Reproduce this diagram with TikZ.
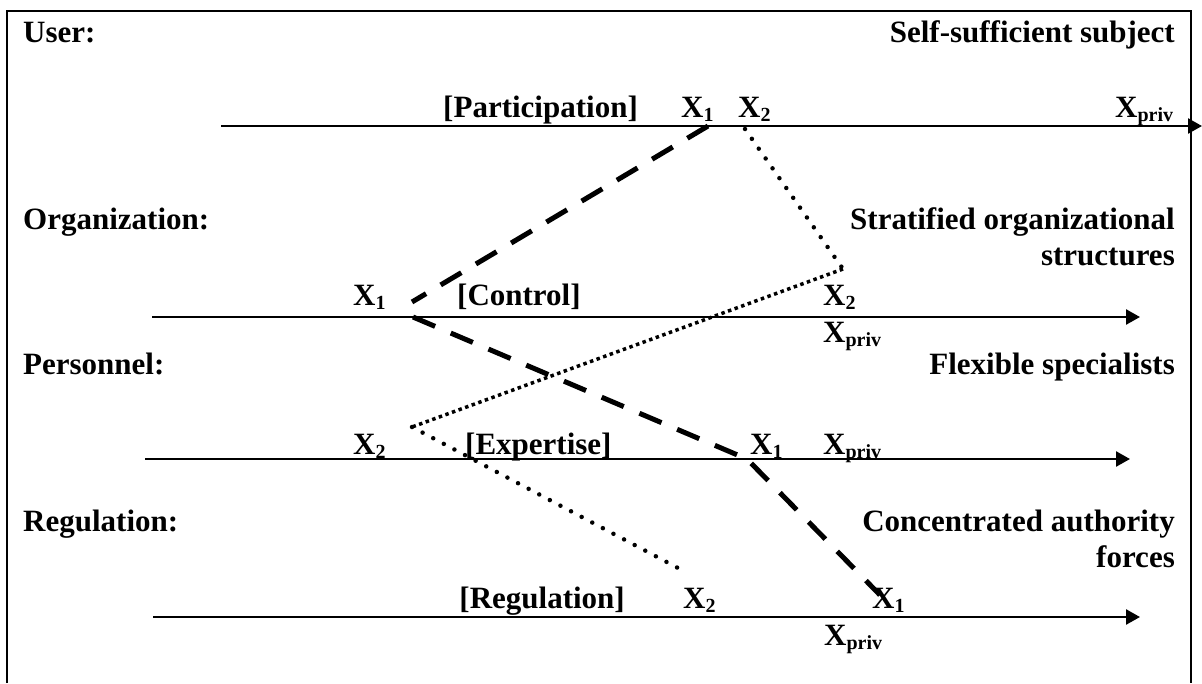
\documentclass[tikz,border=0pt]{standalone}
\usepackage{fontspec}
\setmainfont{Liberation Serif}
\usetikzlibrary{arrows.meta}
\newcommand\mysub[1]{\raisebox{-4pt}{\fontsize{20}{20}\selectfont #1}}
\begin{document}
\begin{tikzpicture}[x=1pt,y=-1pt,
  lbl/.style={inner sep=0pt, font=\fontsize{31}{36}\selectfont\bfseries},
  axis/.style={line width=2.5pt, -{Triangle[length=14pt,width=15pt]}},
  dashln/.style={line width=5pt, dash pattern=on 24pt off 17pt},
  sparsedot/.style={line width=4.5pt, line cap=round, dash pattern=on 0pt off 12pt},
  densedot/.style={line width=3.5pt, dash pattern=on 3.5pt off 3.5pt},
  frame/.style={line width=2pt}]
\useasboundingbox (0,0) rectangle (1202,683);
% frame
\coordinate (fbl) at (7,683);
\coordinate (ftl) at (7,11);
\coordinate (ftr) at (1191,11);
\coordinate (fbr) at (1191,683);
\draw[frame] (fbl) -- (ftl) -- (ftr) -- (fbr);
% axes
\coordinate (uS) at (221,126); \coordinate (uE) at (1202,126);
\coordinate (oS) at (152,317); \coordinate (oE) at (1140,317);
\coordinate (pS) at (145,459); \coordinate (pE) at (1130,459);
\coordinate (rS) at (153,617); \coordinate (rE) at (1140,617);
\draw[axis] (uS) -- (uE);
\draw[axis] (oS) -- (oE);
\draw[axis] (pS) -- (pE);
\draw[axis] (rS) -- (rE);
% row titles
\node[lbl, anchor=base west] (tUser) at (23,42) {User:};
\node[lbl, anchor=base east] (tUserR) at (1175,42) {Self-sufficient subject};
\node[lbl, anchor=base west] (tOrg) at (23,229) {Organization:};
\node[lbl, anchor=base east] (tOrgR1) at (1175,229) {Stratified organizational};
\node[lbl, anchor=base east] (tOrgR2) at (1175,265) {structures};
\node[lbl, anchor=base west] (tPer) at (23,374) {Personnel:};
\node[lbl, anchor=base east] (tPerR) at (1175,374) {Flexible specialists};
\node[lbl, anchor=base west] (tReg) at (23,531) {Regulation:};
\node[lbl, anchor=base east] (tRegR1) at (1175,531) {Concentrated authority};
\node[lbl, anchor=base east] (tRegR2) at (1175,567) {forces};
% user row
\node[lbl, anchor=base east] (uPart) at (638,117) {[Participation]};
\node[lbl, anchor=base west] (uX1) at (681,117) {X\mysub{1}};
\node[lbl, anchor=base west] (uX2) at (738,117) {X\mysub{2}};
\node[lbl, anchor=base west] (uXp) at (1115,117) {X\mysub{priv}};
% organization row
\node[lbl, anchor=base west] (oX1) at (353,305) {X\mysub{1}};
\node[lbl, anchor=base west] (oCtl) at (457,305) {[Control]};
\node[lbl, anchor=base west] (oX2) at (823,305) {X\mysub{2}};
\node[lbl, anchor=base west] (oXp) at (823,342) {X\mysub{priv}};
% personnel row
\node[lbl, anchor=base west] (pX2) at (353,454) {X\mysub{2}};
\node[lbl, anchor=base west] (pExp) at (465,454) {[Expertise]};
\node[lbl, anchor=base west] (pX1) at (750,454) {X\mysub{1}};
\node[lbl, anchor=base west] (pXp) at (823,454) {X\mysub{priv}};
% regulation row
\node[lbl, anchor=base east] (rReg) at (625,608) {[Regulation]};
\node[lbl, anchor=base west] (rX2) at (683,608) {X\mysub{2}};
\node[lbl, anchor=base west] (rX1) at (872,608) {X\mysub{1}};
\node[lbl, anchor=base west] (rXp) at (824,645) {X\mysub{priv}};
% X1 path (dashed)
\coordinate (d1) at (708,126);
\coordinate (d2) at (412,302);
\coordinate (d3) at (413,317);
\coordinate (d4) at (747,459);
\coordinate (d5) at (880,595);
\draw[dashln] (d1) -- (d2);
\draw[dashln] (d3) -- (d4) -- (d5);
% X2 path (dotted)
\coordinate (q1) at (745,129);
\coordinate (q2) at (843,269);
\coordinate (q3) at (412,427);
\coordinate (q4) at (678,568);
\draw[sparsedot] (q1) -- (q2);
\draw[densedot] (q2) -- (q3);
\draw[sparsedot] (q3) -- (q4);
\end{tikzpicture}
\end{document}
